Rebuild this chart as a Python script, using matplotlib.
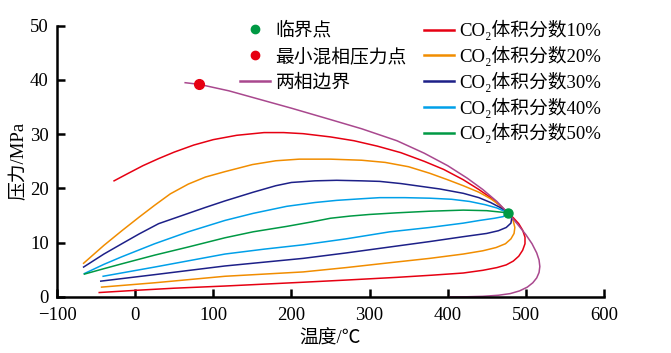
import matplotlib
matplotlib.use('Agg')
import matplotlib.pyplot as plt
from matplotlib.lines import Line2D

plt.rcParams['font.family'] = ['Liberation Serif', 'Noto Sans CJK SC', 'DejaVu Serif']
plt.rcParams['font.size'] = 13.5

# critical point and minimum miscibility pressure point
crit_x, crit_y = [477], [15.5]
mmp_x, mmp_y = [82], [39.2]

# two-phase boundary
bound_x = [64, 82, 120, 160, 200, 250, 290, 335, 370, 400, 425, 445, 463, 477, 490, 500,
           508, 514, 517, 518, 517, 514, 509, 502, 492, 480, 465, 445, 425, 403]
bound_y = [39.5, 39.2, 38.0, 36.4, 34.8, 32.7, 31.0, 28.8, 26.5, 24.2, 21.9, 19.8, 17.6, 15.5, 13.3, 11.5,
           9.8, 8.1, 6.8, 5.6, 4.5, 3.5, 2.6, 1.8, 1.1, 0.6, 0.3, 0.1, 0.02, 0.0]

labels = ['CO₂体积分数10%', 'CO₂体积分数20%', 'CO₂体积分数30%',
          'CO₂体积分数40%', 'CO₂体积分数50%']
colors = ['#e60012', '#f18d00', '#1d2088', '#00a0e9', '#009944']

# upper branches (left -> critical point)
up_x = [
    [-27, -10, 10, 30, 50, 75, 100, 130, 165, 190, 215, 250, 280, 310, 340, 370, 395, 420,
     440, 455, 468, 477],
    [-66, -40, -17, 5, 25, 45, 68, 90, 115, 150, 180, 210, 250, 290, 320, 350, 377, 400, 420,
     440, 455, 467, 477],
    [-66, -40, -17, 5, 30, 50, 68, 90, 115, 151, 180, 200, 230, 258, 290, 313, 340, 365, 390,
     420, 440, 455, 467, 477],
    [-65, -40, -17, 25, 68, 115, 151, 194, 230, 258, 290, 313, 345, 377, 405, 428, 448, 463, 477],
    [-65, -40, -17, 25, 68, 115, 151, 194, 225, 250, 275, 300, 335, 377, 420, 450, 477],
]
up_y = [
    [21.4, 22.7, 24.2, 25.5, 26.7, 28.0, 29.0, 29.8, 30.3, 30.3, 30.1, 29.5, 28.8, 27.8, 26.6,
     25.0, 23.5, 21.6, 19.8, 18.3, 16.7, 15.5],
    [6.2, 9.5, 12.2, 14.7, 16.9, 19.0, 20.8, 22.1, 23.1, 24.4, 25.1, 25.4, 25.4, 25.2, 24.8,
     24.0, 22.8, 21.6, 20.5, 19.3, 18.1, 16.9, 15.5],
    [5.5, 7.9, 9.8, 11.6, 13.5, 14.5, 15.4, 16.5, 17.7, 19.3, 20.5, 21.1, 21.4, 21.5, 21.4,
     21.3, 20.9, 20.4, 19.9, 19.1, 18.3, 17.4, 16.5, 15.5],
    [4.3, 6.0, 7.4, 9.8, 12.0, 14.1, 15.4, 16.7, 17.4, 17.8, 18.1, 18.3, 18.3, 18.2, 18.0, 17.6,
     17.0, 16.4, 15.5],
    [4.2, 5.2, 6.1, 7.7, 9.2, 10.9, 12.0, 13.0, 13.8, 14.5, 14.9, 15.2, 15.5, 15.8, 16.0, 15.9, 15.5],
]

# lower branches (left -> critical point), none for 50%
low_x = [
    [-46, 0, 50, 115, 165, 215, 270, 335, 380, 420, 445, 463, 475, 484, 491, 496, 499, 499,
     496, 491, 484, 477],
    [-43, 25, 115, 215, 270, 326, 377, 420, 445, 462, 474, 481, 485, 486, 484, 481, 477],
    [-44, 25, 115, 215, 270, 326, 377, 420, 450, 465, 475, 481, 482, 477],
    [-41, 25, 115, 165, 215, 270, 326, 377, 420, 441, 460, 471, 477],
    None,
]
low_y = [
    [0.8, 1.2, 1.6, 2.0, 2.35, 2.7, 3.1, 3.6, 4.0, 4.4, 4.9, 5.4, 5.9, 6.6, 7.5, 8.6, 9.8, 11.0,
     12.3, 13.5, 14.6, 15.5],
    [1.8, 2.6, 3.8, 4.6, 5.4, 6.3, 7.1, 7.9, 8.5, 9.1, 9.8, 10.7, 11.7, 12.8, 14.0, 14.8, 15.5],
    [2.9, 4.1, 5.7, 7.1, 8.1, 9.2, 10.2, 11.1, 11.7, 12.2, 12.8, 13.6, 14.5, 15.5],
    [3.8, 5.5, 7.9, 8.8, 9.6, 10.7, 12.0, 12.8, 13.6, 14.1, 14.5, 14.8, 15.5],
    None,
]

fig = plt.figure(figsize=(6.71, 3.53), dpi=100)
ax = fig.add_axes([0.085, 0.159, 0.815, 0.768])

for i in range(len(labels)):
    ax.plot(up_x[i], up_y[i], color=colors[i], lw=1.1)
    if low_x[i] is not None:
        ax.plot(low_x[i], low_y[i], color=colors[i], lw=1.1)

ax.plot(bound_x, bound_y, color='#a9488e', lw=1.1)
ax.plot(crit_x, crit_y, 'o', color='#009944', ms=6.5, zorder=5)
ax.plot(mmp_x, mmp_y, 'o', color='#e60012', ms=7, zorder=5)

ax.set_xlim(-100, 600)
ax.set_ylim(0, 50)
ax.set_xticks(range(-100, 601, 100))
ax.set_yticks(range(0, 51, 10))
ax.set_xticklabels(['\u2212100', '0', '100', '200', '300', '400', '500', '600'])
for s in ['top', 'right']:
    ax.spines[s].set_visible(False)
for s in ['left', 'bottom']:
    ax.spines[s].set_linewidth(1.8)
ax.tick_params(direction='in', length=5.5, width=1.8, labelsize=13.5)
ax.tick_params(axis='y', pad=6)
ax.tick_params(axis='x', pad=7)
ax.set_xlabel('温度/℃', labelpad=5)
ax.set_ylabel('压力/MPa', labelpad=2)

# legends
h1 = [Line2D([], [], ls='none', marker='o', color='#009944', ms=6),
      Line2D([], [], ls='none', marker='o', color='#e60012', ms=6),
      Line2D([], [], color='#a9488e', lw=1.8)]
leg1 = ax.legend(h1, ['临界点', '最小混相压力点', '两相边界'], loc='upper left',
                 bbox_to_anchor=(240 / 671, 1 - 22 / 353), bbox_transform=fig.transFigure,
                 frameon=False, borderpad=0, borderaxespad=0, handlelength=1.6,
                 handletextpad=0.3, labelspacing=0.43, fontsize=13.5)
ax.add_artist(leg1)
h2 = [Line2D([], [], color=c, lw=1.8) for c in colors]
ax.legend(h2, labels, loc='upper left',
          bbox_to_anchor=(424 / 671, 1 - 20 / 353), bbox_transform=fig.transFigure,
          frameon=False, borderpad=0, borderaxespad=0, handlelength=1.6,
          handletextpad=0.29, labelspacing=0.3, fontsize=13.5)

fig.savefig('out.png', dpi=100)
